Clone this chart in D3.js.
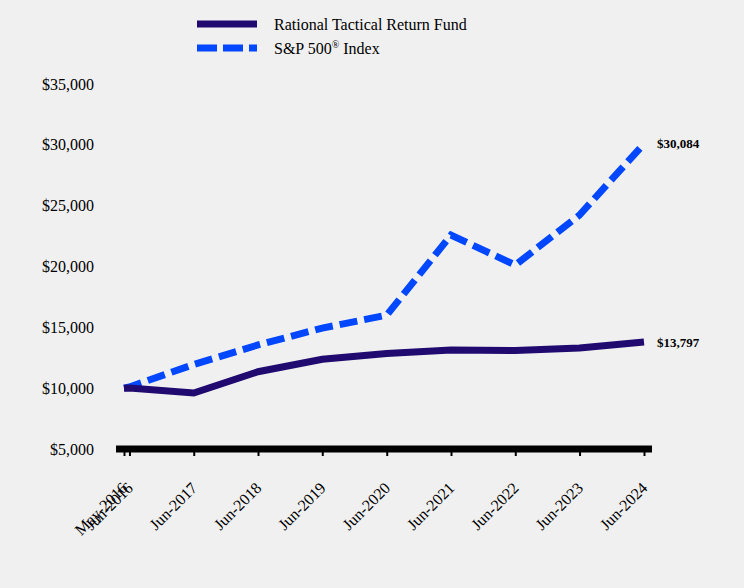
<!DOCTYPE html>
<html><head><meta charset="utf-8">
<script src="https://cdn.jsdelivr.net/npm/d3@7"></script>
<style>body{margin:0;background:#f0f0f0;} svg{display:block;}</style>
</head><body><svg id="c" width="744" height="588"></svg>
<script>
const dates = ["2016-05","2016-06","2017-06","2018-06","2019-06","2020-06","2021-06","2022-06","2023-06","2024-06"];
const tickLabels = ["May-2016","Jun-2016","Jun-2017","Jun-2018","Jun-2019","Jun-2020","Jun-2021","Jun-2022","Jun-2023","Jun-2024"];
const fundValues = [10000,10020,9600,11350,12370,12850,13130,13100,13300,13797];
const spValues = [10000,10100,11950,13550,14940,16000,22580,20120,24230,30084];
const yTicks = [5000,10000,15000,20000,25000,30000,35000];
const seriesNames = ["Rational Tactical Return Fund","S&P 500® Index"];

const parse = d3.timeParse("%Y-%m");
const svg = d3.select("#c");
const font = "'Liberation Serif','Times New Roman',serif";

const x = d3.scaleTime().domain([parse(dates[0]), parse(dates[dates.length-1])]).range([124,644]);
const y = d3.scaleLinear().domain([5000,35000]).range([449,84]);

// y labels
svg.append("g").selectAll("text").data(yTicks).join("text")
  .attr("x",94).attr("y",d=>y(d)).attr("dy","0.35em")
  .attr("text-anchor","end").attr("font-family",font).attr("font-size",16).attr("fill","#000")
  .text(d=>d3.format("$,")(d));

// x axis bar
svg.append("rect").attr("x",x.range()[0]-8).attr("y",y(5000)-3.5)
  .attr("width",x.range()[1]-x.range()[0]+16).attr("height",7).attr("fill","#000");

const xa = svg.append("g").attr("transform",`translate(0,${y(5000)})`)
  .call(d3.axisBottom(x).tickValues(dates.map(parse)).tickFormat((d,i)=>tickLabels[i]).tickSize(7).tickSizeOuter(0));
xa.select(".domain").remove();
xa.selectAll(".tick line").attr("stroke","#000").attr("stroke-width",2);
xa.selectAll(".tick text").attr("font-family",font).attr("font-size",16).attr("fill","#000")
  .attr("text-anchor","end").attr("x",0).attr("y",0).attr("dy",0)
  .attr("transform","translate(4,40) rotate(-45)");

const line = d3.line().x((d,i)=>x(parse(dates[i]))).y(d=>y(d));

svg.append("path").datum(spValues).attr("d",line).attr("fill","none")
  .attr("stroke","#0047ff").attr("stroke-width",7).attr("stroke-dasharray","18,7");
svg.append("path").datum(fundValues).attr("d",line).attr("fill","none")
  .attr("stroke","#200a70").attr("stroke-width",7);

// end labels
const last = dates.length-1;
[spValues, fundValues].forEach(vals=>{
  svg.append("text").attr("x",x(parse(dates[last]))+13).attr("y",y(vals[last])).attr("dy","0.35em")
    .attr("font-family",font).attr("font-size",13).attr("font-weight","bold").attr("fill","#000")
    .text(d3.format("$,")(vals[last]));
});

// legend
const lg = svg.append("g");
lg.append("line").attr("x1",197).attr("x2",257).attr("y1",24).attr("y2",24).attr("stroke","#200a70").attr("stroke-width",7);
lg.append("line").attr("x1",197).attr("x2",257).attr("y1",48).attr("y2",48).attr("stroke","#0047ff").attr("stroke-width",7).attr("stroke-dasharray","20,6");
lg.append("text").attr("x",274).attr("y",24).attr("dy","0.35em").attr("font-family",font).attr("font-size",16).text(seriesNames[0]);
const t2 = lg.append("text").attr("x",274).attr("y",48).attr("dy","0.35em").attr("font-family",font).attr("font-size",16);
t2.append("tspan").text("S&P 500");
t2.append("tspan").attr("font-size",10).attr("dy",-6).text("®");
t2.append("tspan").attr("dy",6).text(" Index");
</script></body></html>
